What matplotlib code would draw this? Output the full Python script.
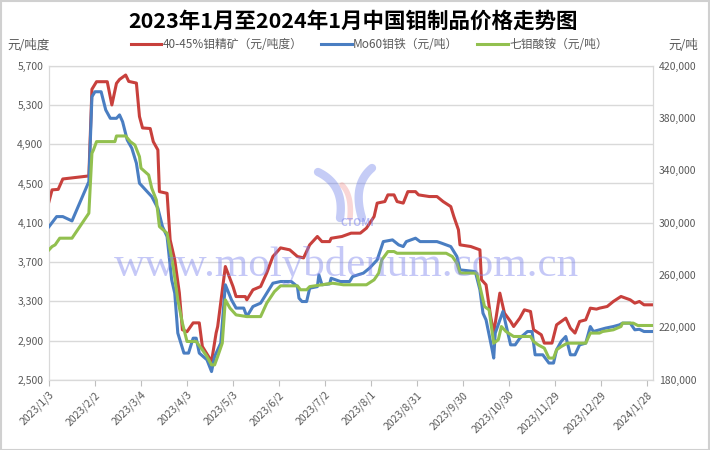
import numpy as np
import pandas as pd
import matplotlib.pyplot as plt
from matplotlib.ticker import FuncFormatter
from matplotlib.patches import Rectangle

plt.rcParams['font.family'] = ['Noto Sans CJK SC', 'DejaVu Sans']

START = pd.Timestamp('2023-01-03')
END_DAY = 394

# 40-45% molybdenum concentrate, yuan / ton-degree (left axis)
conc_days = [0, 2, 6, 9, 26, 28, 31, 38, 41, 44, 46, 50, 52, 57, 59, 61, 66, 68, 71, 72,
             77, 79, 82, 85, 87, 90, 94, 98, 100, 106, 109, 110, 115, 120, 122, 128, 129, 133, 138, 142,
             146, 151, 157, 162, 166, 170, 175, 178, 183, 184, 191, 197, 203, 207, 212, 214, 219, 221, 225, 227,
             231, 234, 239, 241, 248, 253, 257, 262, 264, 267, 268, 275, 281, 282, 285, 288, 290, 294, 297, 301,
             303, 307, 310, 314, 316, 321, 323, 328, 331, 337, 340, 343, 346, 350, 353, 357, 359, 364, 368, 373,
             379, 382, 385, 388, 394]
conc_price = [4316, 4435, 4440, 4546, 4577, 5460, 5537, 5537, 5300, 5520, 5560, 5605, 5540, 5523, 5182,
              5066, 5060, 4926, 4842, 4417, 4400, 3926, 3722, 3386, 3010, 2990, 3080, 3080, 2840, 2687,
              2978, 3043, 3654, 3450, 3348, 3348, 3315, 3417, 3450, 3589, 3756, 3844, 3824, 3756, 3742,
              3875, 3960, 3908, 3908, 3942, 3960, 3994, 3994, 4045, 4163, 4300, 4316, 4384, 4384, 4316,
              4300, 4417, 4417, 4384, 4367, 4367, 4316, 4265, 4163, 4028, 3875, 3858, 3824, 3520, 3468,
              3145, 2976, 3383, 3179, 3094, 3043, 3128, 3213, 3196, 3010, 2959, 2874, 2874, 3060, 3128,
              3026, 2976, 3094, 3111, 3230, 3220, 3230, 3247, 3298, 3349, 3315, 3281, 3298, 3264, 3264]

# Mo60 ferro-molybdenum, yuan / ton (right axis)
femo_days = [0, 5, 9, 15, 26, 28, 30, 34, 37, 40, 44, 46, 48, 51, 54, 57, 59, 64, 67, 71,
             74, 77, 80, 82, 84, 88, 91, 94, 96, 98, 103, 106, 108, 112, 115, 119, 122, 127, 129, 133,
             138, 142, 146, 151, 158, 162, 163, 165, 168, 170, 175, 176, 178, 183, 184, 190, 196, 198, 205, 209,
             214, 218, 224, 228, 231, 233, 239, 242, 253, 256, 262, 266, 268, 278, 281, 283, 285, 289, 290, 291,
             296, 301, 304, 307, 312, 315, 317, 322, 326, 329, 331, 334, 337, 340, 343, 346, 350, 353, 355, 359,
             363, 368, 372, 374, 379, 382, 385, 388, 394]
femo_price = [297000, 304700, 304700, 301400, 331400, 396300, 400100, 400100, 386200, 379800,
              379800, 382400, 377200, 363300, 357000, 345500, 330200, 323800, 320000, 311100,
              297100, 289400, 256400, 246200, 215700, 200400, 200400, 211800, 211800, 200400,
              195300, 186300, 197800, 208000, 252600, 241100, 234800, 234800, 228300, 236000,
              238600, 246200, 253800, 255100, 255100, 251200, 242400, 239800, 239800, 250000,
              251200, 260200, 252600, 253300, 257600, 255100, 255100, 258900, 261500, 265300,
              271600, 285600, 286900, 283100, 281800, 285600, 288200, 285600, 285600, 284400,
              281800, 274200, 264000, 262700, 248800, 230900, 225800, 202900, 196600, 215700,
              232200, 206700, 206700, 211800, 216900, 216900, 199100, 199100, 192800, 192800,
              202900, 209300, 213100, 199100, 199100, 206700, 208000, 220700, 216900, 218200,
              219500, 220700, 222000, 223300, 223300, 218200, 218600, 216900, 216900]

# ammonium heptamolybdate, yuan / ton (right axis)
ahm_days = [0, 2, 4, 7, 15, 26, 28, 29, 31, 43, 44, 50, 53, 56, 59, 60, 65, 67, 70, 72,
            77, 81, 84, 87, 90, 96, 100, 103, 106, 108, 110, 113, 115, 118, 122, 129, 138, 142, 147, 151,
            162, 164, 168, 170, 178, 185, 192, 207, 212, 215, 217, 221, 225, 227, 259, 263, 266, 268, 279, 282,
            284, 287, 290, 293, 295, 298, 303, 314, 316, 319, 323, 326, 329, 331, 334, 338, 350, 353, 359, 361,
            368, 373, 374, 381, 384, 394]
ahm_price = [279300, 281800, 283100, 288200, 288200, 307300, 353100, 355600, 362000, 362000,
             366300, 366300, 362000, 359400, 350500, 341700, 336500, 326400, 317400, 297100,
             292000, 266500, 241100, 223300, 209300, 209300, 202900, 197800, 191400, 191400,
             197800, 208000, 241100, 234800, 229600, 228300, 228300, 238600, 247400, 251800,
             251800, 248800, 248800, 251200, 252600, 253800, 252600, 252600, 256400, 261500,
             271600, 278000, 278000, 276700, 276700, 274200, 269100, 261500, 261500, 246200,
             236000, 233400, 208000, 210600, 220700, 216900, 213100, 213100, 209300, 206700,
             204200, 196600, 196600, 202900, 205400, 208000, 208000, 215700, 215700, 216900,
             218200, 220700, 223300, 223300, 221500, 221500]

tick_labels = ['2023/1/3', '2023/2/2', '2023/3/4', '2023/4/3', '2023/5/3', '2023/6/2', '2023/7/2',
               '2023/8/1', '2023/8/31', '2023/9/30', '2023/10/30', '2023/11/29', '2023/12/29', '2024/1/28']
left_ticks = [2500, 2900, 3300, 3700, 4100, 4500, 4900, 5300, 5700]
right_ticks = [180000, 220000, 260000, 300000, 340000, 380000, 420000]

labels = ['40-45%钼精矿（元/吨度）', 'Mo60钼铁（元/吨）', '七钼酸铵（元/吨）']
colors = ['#C8403C', '#4A7EC2', '#92C04F']


def to_dates(days):
    return START + pd.to_timedelta(days, unit='D')


fig = plt.figure(figsize=(7.1, 4.5), dpi=100)
ax = fig.add_axes([0.069, 0.156, 0.851, 0.698])
ax2 = ax.twinx()

l1, = ax.plot(to_dates(conc_days), conc_price, color=colors[0], lw=2.2, zorder=3)
l2, = ax2.plot(to_dates(femo_days), femo_price, color=colors[1], lw=2.2, zorder=3)
l3, = ax2.plot(to_dates(ahm_days), ahm_price, color=colors[2], lw=2.2, zorder=3)

ax.set_ylim(left_ticks[0], left_ticks[-1])
ax.set_yticks(left_ticks)
ax2.set_ylim(right_ticks[0], right_ticks[-1])
ax2.set_yticks(right_ticks)
fmt = FuncFormatter(lambda v, p: f'{int(v):,}')
ax.yaxis.set_major_formatter(fmt)
ax2.yaxis.set_major_formatter(fmt)

ax.set_xlim(START, to_dates([END_DAY])[0])
ax.set_xticks(pd.to_datetime(tick_labels, format='%Y/%m/%d'))
ax.set_xticklabels(tick_labels, rotation=45, ha='right', rotation_mode='anchor')

ax.grid(axis='y', color='#d9d9d9', lw=1)
ax.set_axisbelow(True)
for a in (ax, ax2):
    for s in a.spines.values():
        s.set_color('#d9d9d9')
    a.tick_params(axis='y', length=0, labelsize=7.5, labelcolor='#595959', pad=4)
ax.spines['bottom'].set_color('#bfbfbf')
ax.tick_params(axis='x', length=4, color='#bfbfbf', labelsize=7.5, labelcolor='#595959', pad=3)

fig.text(0.497, 0.952, '2023年1月至2024年1月中国钼制品价格走势图', ha='center', va='center',
         fontsize=15.5, fontweight='bold', color='black')
fig.text(0.04, 0.898, '元/吨度', ha='center', va='center', fontsize=9, color='#595959')
fig.text(0.962, 0.898, '元/吨', ha='center', va='center', fontsize=9, color='#595959')
fig.legend([l1, l2, l3], labels, loc='center', bbox_to_anchor=(0.52, 0.9), ncol=3, frameon=False,
           fontsize=8.5, labelcolor='#595959', handlelength=2.6, columnspacing=1.6, handletextpad=0.1)

# watermark logo (two blue swooshes with a pink stroke) and site name
def swoosh(p0, p1, p2, color, lw):
    t = np.linspace(0, 1, 30)
    xs = (1 - t) ** 2 * p0[0] + 2 * (1 - t) * t * p1[0] + t ** 2 * p2[0]
    ys = (1 - t) ** 2 * p0[1] + 2 * (1 - t) * t * p1[1] + t ** 2 * p2[1]
    fig.add_artist(plt.Line2D(xs / 710, 1 - ys / 450, color=color, lw=lw, alpha=0.35,
                              solid_capstyle='round', zorder=10))


swoosh((318, 172), (345, 185), (340, 218), '#5a6ee8', 6)
swoosh((342, 185), (352, 195), (350, 218), '#f08a8a', 4)
swoosh((372, 168), (352, 185), (362, 218), '#5a6ee8', 6)
fig.text(0.504, 0.505, 'CTOMI', ha='center', va='center', fontsize=7.5, style='italic',
         fontweight='bold', color='#7f86ee', alpha=0.55, zorder=10)
fig.text(0.488, 0.41, 'www.molybdenum.com.cn', ha='center', va='center', fontsize=31,
         family='Liberation Serif', color='#7f86ee', alpha=0.45, zorder=10)

fig.patches.append(Rectangle((0.001, 0.001), 0.998, 0.997, transform=fig.transFigure,
                             fill=False, edgecolor='#d0d0d0', lw=1.5))

fig.savefig('out.png', dpi=100)
